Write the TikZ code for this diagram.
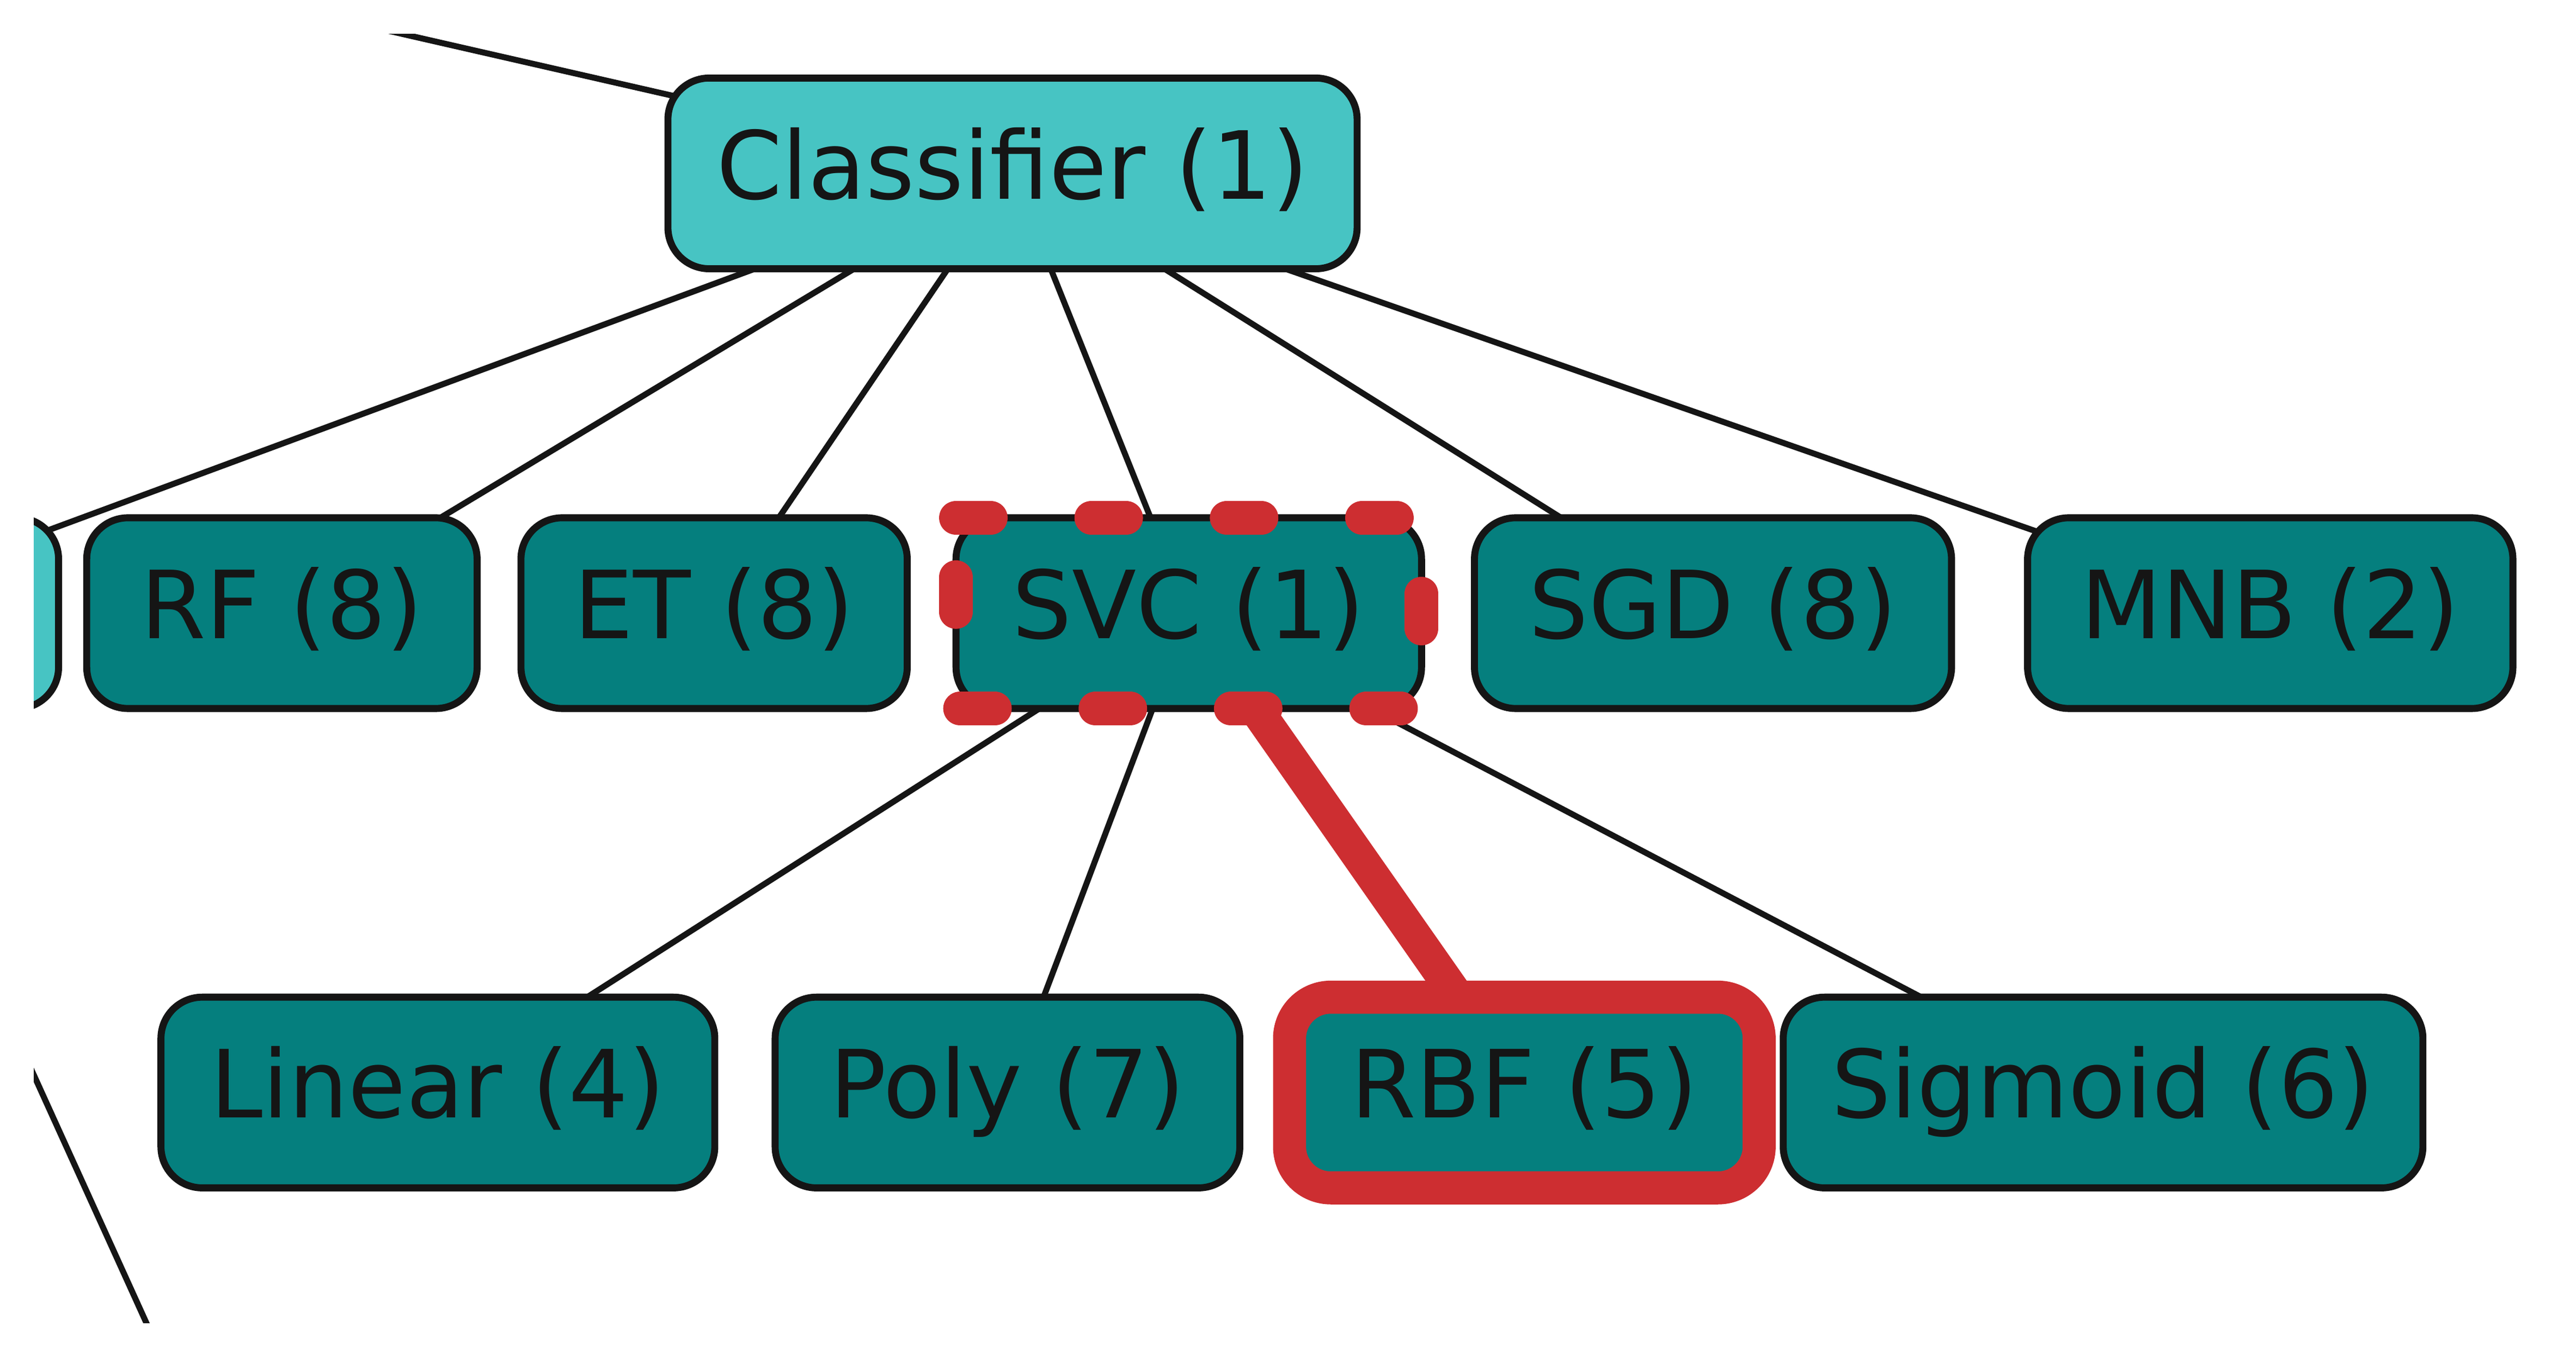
\documentclass[tikz,border=0pt]{standalone}
\usepackage{fontspec}
\setmainfont{DejaVu Sans}
\usetikzlibrary{backgrounds}
\definecolor{tealmid}{HTML}{47C4C3}
\definecolor{tealdark}{HTML}{057F7E}
\definecolor{pickred}{HTML}{CD2E31}
\definecolor{ink}{HTML}{151515}

\begin{document}
\begin{tikzpicture}[x=0.02cm,y=-0.02cm,
  box/.style={rectangle, rounded corners=0.5cm, draw=ink, line width=0.085cm,
    fill=tealdark, text=ink, minimum height=2.31cm, inner sep=0pt, outer sep=0pt,
    text height=24.6pt, text depth=7.1pt, font=\fontsize{32.4}{39}\selectfont},
  open/.style={box, fill=tealmid},
  picked/.style={draw=pickred, line width=0.4cm},
  link/.style={draw=ink, line width=0.072cm},
  pickline/.style={draw=pickred, line width=0.41cm},
  pickdash/.style={draw=pickred, line width=0.41cm, line cap=round, line join=round,
    dash pattern=on 0.42cm off 1.22cm}]

\useasboundingbox (0,0) rectangle (1560.2,821.6);

\begin{scope}
\clip (20.5,20.5) rectangle (1560.2,801);

% define the nodes of the tree
  \node[open, minimum width=8.35cm]  (clf)  at (613.25,105)    {Classifier (1)};
  \node[open, minimum width=5.68cm]  (prev) at (-106.5,371.25) {};
  \node[box, minimum width=4.73cm]   (rf)   at (170.75,371.25) {RF (8)};
  \node[box, minimum width=4.68cm]   (et)   at (432.5,371.25)  {ET (8)};
  \node[box, minimum width=5.64cm]   (svc)  at (720,371.25)    {SVC (1)};
  \node[box, minimum width=5.78cm]   (sgd)  at (1037.5,371.25) {SGD (8)};
  \node[box, minimum width=5.88cm]   (mnb)  at (1375,371.25)   {MNB (2)};
  \node[box, minimum width=6.71cm]   (lin)  at (265.2,661.5)   {Linear (4)};
  \node[box, minimum width=5.63cm]   (poly) at (610.2,661.5)   {Poly (7)};
  \node[box, picked, minimum width=5.69cm] (rbf) at (923.25,661.5) {RBF (5)};
  \node[box, minimum width=7.75cm]   (sig)  at (1273.75,661.5) {Sigmoid (6)};

  \coordinate (up)   at (-656,-185);
  \coordinate (down) at (157,951.5);

% mark the chosen step
  \draw[pickdash] (svc.north west) -- (svc.north east) -- (svc.south east)
    -- (svc.south west) -- cycle;
\end{scope}

% define the links
\begin{scope}[on background layer]
\clip (20.5,20.5) rectangle (1560.2,801);
  \path[link] (up) edge (clf.center)
    (clf.center) edge (prev.center)
                 edge (rf.center)
                 edge (et.center)
                 edge (svc.center)
                 edge (sgd.center)
                 edge (mnb.center)
    (prev.center) edge (down)
    (svc.center) edge (lin.center)
                 edge (poly.center)
                 edge (sig.center);
  \path[pickline] (svc.center) edge (rbf.center);
\end{scope}

\end{tikzpicture}
\end{document}
